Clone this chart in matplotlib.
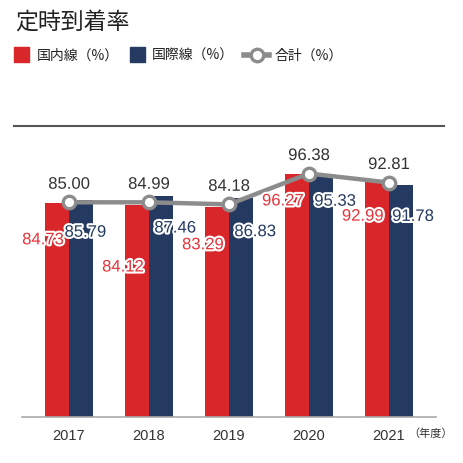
import matplotlib
matplotlib.use('Agg')
import matplotlib.pyplot as plt
import matplotlib.patheffects as pe
from matplotlib.patches import Rectangle
from matplotlib.lines import Line2D
import numpy as np

plt.rcParams['font.family'] = ['Liberation Sans', 'Noto Sans CJK JP', 'DejaVu Sans']

years = ['2017', '2018', '2019', '2020', '2021']
domestic = [84.73, 84.12, 83.29, 96.27, 92.99]
international = [85.79, 87.46, 86.83, 95.33, 91.78]
total = [85.00, 84.99, 84.18, 96.38, 92.81]

# label offsets below bar tops (points), to keep labels apart
dom_dy = [-26.5, -45, -27.5, -19.5, -24.5]
int_dy = [-23, -23, -24.5, -18, -22.5]
int_dx = [-5.5, 1.5, 1.5, 1.5, 0]

RED = '#d8262b'
NAVY = '#243a60'
GREY = '#8c8c8c'
W, H = 463, 464

fig = plt.figure(figsize=(W / 100, H / 100), dpi=100)
ax = fig.add_axes([22 / W, 1 - 418 / H, 414 / W, 292 / H])

x = np.arange(len(years))
bw = 0.3
ax.bar(x - bw / 2, domestic, bw, color=RED, zorder=2)
ax.bar(x + bw / 2, international, bw, color=NAVY, zorder=2)
ax.plot(x, total, color=GREY, lw=3.2, marker='o', ms=9, mfc='white',
        mec=GREY, mew=2.4, zorder=4)

ax.set_xlim(-0.5875, 4.5875)
ax.set_ylim(0, 115.6)
for s in ['top', 'left', 'right']:
    ax.spines[s].set_visible(False)
ax.spines['bottom'].set_color('#aaaaaa')
ax.spines['bottom'].set_linewidth(1.2)
ax.set_yticks([])
ax.set_xticks(x)
ax.set_xticklabels(years, fontsize=10.5, color='#333333')
ax.tick_params(axis='x', length=0, pad=8)

outline = [pe.withStroke(linewidth=3, foreground='white')]
for i in range(len(years)):
    ax.annotate(f'{domestic[i]:.2f}', (x[i] - bw, domestic[i]),
                xytext=(-1.5, dom_dy[i]), textcoords='offset points',
                ha='center', va='center', fontsize=12, color='#e5333a',
                path_effects=outline, zorder=5)
    ax.annotate(f'{international[i]:.2f}', (x[i] + bw, international[i]),
                xytext=(int_dx[i], int_dy[i]), textcoords='offset points',
                ha='center', va='center', fontsize=12, color=NAVY,
                path_effects=outline, zorder=5)
    ax.annotate(f'{total[i]:.2f}', (x[i], total[i]),
                xytext=(0, 13), textcoords='offset points',
                ha='center', va='center', fontsize=12, color='#333333',
                path_effects=outline, zorder=5)

ax.annotate('（年度）', (x[-1], 0), xytext=(30, -11.5), textcoords='offset points',
            ha='center', va='center', fontsize=8, color='#333333',
            family=['Noto Sans CJK JP'], annotation_clip=False)

# top separator line
fig.add_artist(Line2D([14 / W, 444 / W], [1 - 126.5 / H] * 2,
                      color='#555555', lw=1.5))

# title
fig.text(15 / W, 1 - 22 / H, '定時到着率', fontsize=16.5, color='#222222',
         ha='left', va='center', family=['Noto Sans CJK JP'])

# legend
ly = 1 - 56 / H
fig.add_artist(Rectangle((14 / W, 1 - 63 / H), 15 / W, 15 / H, color=RED))
fig.text(37 / W, ly, '国内線（%）', fontsize=10, color='#222222', va='center',
         family=['Noto Sans CJK JP'])
fig.add_artist(Rectangle((130 / W, 1 - 63 / H), 15 / W, 15 / H, color=NAVY))
fig.text(152 / W, ly, '国際線（%）', fontsize=10, color='#222222', va='center',
         family=['Noto Sans CJK JP'])
fig.add_artist(Line2D([244 / W, 269 / W], [ly, ly], color=GREY, lw=4))
fig.add_artist(Line2D([256.5 / W], [ly], color=GREY, marker='o', ms=9,
                      mfc='white', mec=GREY, mew=2.4))
fig.text(275 / W, ly, '合計（%）', fontsize=10, color='#222222', va='center',
         family=['Noto Sans CJK JP'])

fig.savefig('out.png', dpi=100)
